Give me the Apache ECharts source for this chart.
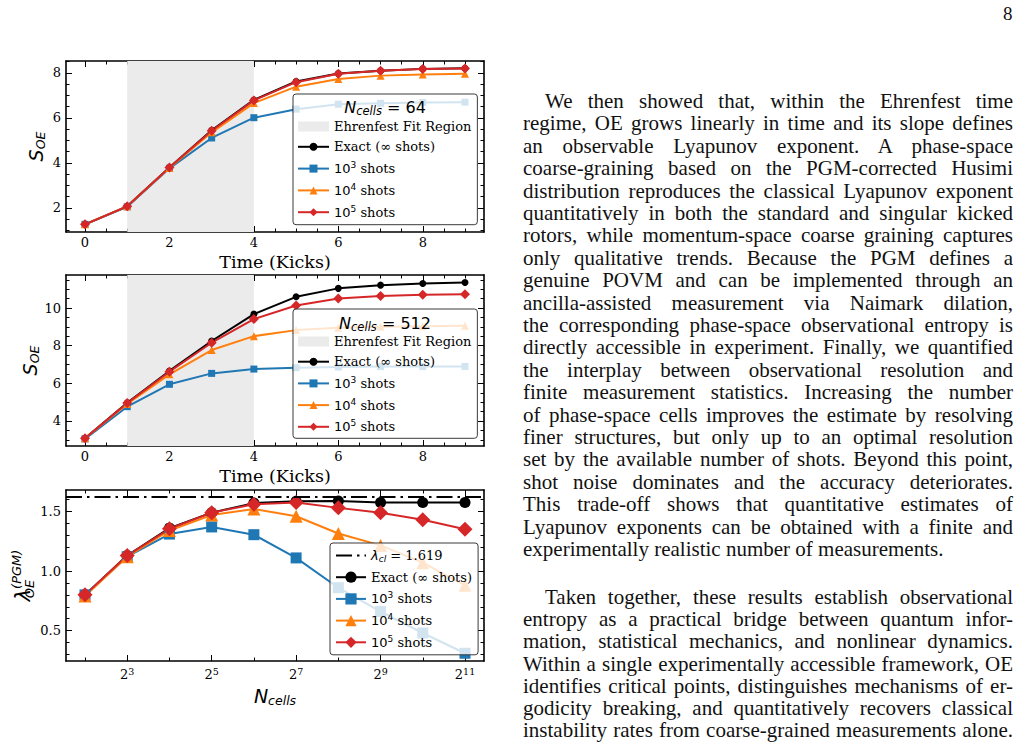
<!DOCTYPE html>
<html lang="en">
<head>
<meta charset="UTF-8">
<title>OE figure page</title>
<script src="https://cdn.jsdelivr.net/npm/echarts@6.0.0/dist/echarts.min.js"></script>
<style>
  html, body { margin: 0; padding: 0; background: #fff; }
  #main { position: absolute; left: 0; top: 0; width: 1021px; height: 743px; }
  #page { position: absolute; left: 0; top: 0; width: 1021px; height: 743px; overflow: hidden;
          font-family: 'Liberation Serif', serif; color: #111; pointer-events: none; }
  .ln { position: absolute; left: 523px; width: 490px; height: 24px; line-height: 24px; font-size: 21px;
        white-space: nowrap; text-align: justify; text-align-last: justify; }
  .ln.ind { padding-left: 22px; width: 468px; }
  .ln.last { text-align-last: left; }
  #pageno { position: absolute; left: 1003px; top: 4px; font-size: 19px; line-height: 20px; }
</style>
</head>
<body>
<div id="main"></div>
<div id="page"><div id="pageno">8</div></div>
<script type="text/javascript">
// ---- data ----
var kicks = [0, 1, 2, 3, 4, 5, 6, 7, 8, 9];
var fitRegion = [1, 4];
var panelCells = [64, 512];

// N_cells = 64
var exact64  = [1.27, 2.07, 3.80, 5.45, 6.80, 7.62, 7.97, 8.10, 8.18, 8.21];
var shots3_64 = [1.27, 2.05, 3.76, 5.11, 6.01, 6.39, 6.61, 6.65, 6.69, 6.70];
var shots4_64 = [1.27, 2.07, 3.78, 5.36, 6.66, 7.39, 7.73, 7.88, 7.93, 7.96];
var shots5_64 = [1.27, 2.07, 3.80, 5.43, 6.78, 7.59, 7.96, 8.10, 8.17, 8.20];

// N_cells = 512
var exact512  = [3.08, 4.97, 6.66, 8.25, 9.68, 10.60, 11.05, 11.22, 11.31, 11.36];
var shots3_512 = [3.05, 4.76, 5.95, 6.53, 6.76, 6.83, 6.87, 6.89, 6.89, 6.90];
var shots4_512 = [3.08, 4.90, 6.48, 7.77, 8.51, 8.83, 8.96, 9.01, 9.04, 9.06];
var shots5_512 = [3.08, 4.95, 6.62, 8.16, 9.42, 10.14, 10.51, 10.64, 10.71, 10.74];

// Lyapunov estimate vs number of cells
var nCells = [4, 8, 16, 32, 64, 128, 256, 512, 1024, 2048];
var lamExact = [0.80, 1.13, 1.36, 1.49, 1.57, 1.585, 1.588, 1.575, 1.575, 1.575];
var lam3 = [0.80, 1.12, 1.31, 1.37, 1.305, 1.11, 0.86, 0.66, 0.48, 0.31];
var lam4 = [0.79, 1.12, 1.34, 1.47, 1.52, 1.46, 1.315, 1.215, 1.07, 0.88];
var lam5 = [0.80, 1.13, 1.355, 1.49, 1.56, 1.575, 1.53, 1.49, 1.43, 1.35];
var lambdaCl = 1.619;

// tick labels
var kickTicks = [0, 2, 4, 6, 8];
var s64Ticks = [2, 4, 6, 8];
var s512Ticks = [4, 6, 8, 10];
var lamTicks = [0.5, 1.0, 1.5];
var cellExpTicks = [3, 5, 7, 9, 11];
var cellExpMinor = [2, 4, 6, 8, 10];

// ---- text column ----
var para1 = [
  'We then showed that, within the Ehrenfest time',
  'regime, OE grows linearly in time and its slope defines',
  'an observable Lyapunov exponent.  A phase-space',
  'coarse-graining based on the PGM-corrected Husimi',
  'distribution reproduces the classical Lyapunov exponent',
  'quantitatively in both the standard and singular kicked',
  'rotors, while momentum-space coarse graining captures',
  'only qualitative trends.  Because the PGM defines a',
  'genuine POVM and can be implemented through an',
  'ancilla-assisted measurement via Naimark dilation,',
  'the corresponding phase-space observational entropy is',
  'directly accessible in experiment. Finally, we quantified',
  'the interplay between observational resolution and',
  'finite measurement statistics.  Increasing the number',
  'of phase-space cells improves the estimate by resolving',
  'finer structures, but only up to an optimal resolution',
  'set by the available number of shots. Beyond this point,',
  'shot noise dominates and the accuracy deteriorates.',
  'This trade-off shows that quantitative estimates of',
  'Lyapunov exponents can be obtained with a finite and',
  'experimentally realistic number of measurements.'
];
var para2 = [
  'Taken together, these results establish observational',
  'entropy as a practical bridge between quantum infor-',
  'mation, statistical mechanics, and nonlinear dynamics.',
  'Within a single experimentally accessible framework, OE',
  'identifies critical points, distinguishes mechanisms of er-',
  'godicity breaking, and quantitatively recovers classical',
  'instability rates from coarse-grained measurements alone.'
];

function addPara(lines, firstTop, lead, lastLeft) {
  var page = document.getElementById('page');
  lines.forEach(function (t, i) {
    var d = document.createElement('div');
    d.className = 'ln' + (i === 0 ? ' ind' : '') + (lastLeft && i === lines.length - 1 ? ' last' : '');
    d.style.top = (firstTop + i * lead) + 'px';
    d.textContent = t;
    page.appendChild(d);
  });
}
addPara(para1, 89, 22.4, true);
addPara(para2, 585, 22.2, false);

// ---- chart ----
var chart = echarts.init(document.getElementById('main'), null, { renderer: 'svg' });

var SERIF = "'DejaVu Serif', serif";
var SANS = "'DejaVu Sans', sans-serif";
var C_EXACT = '#000000', C_3 = '#1f77b4', C_4 = '#ff7f0e', C_5 = '#d62728', C_FIT = '#ebebeb';
var N_FIT = 'Ehrenfest Fit Region', N_EX = 'Exact (\u221e shots)';
var N_3 = '10\u00b3 shots', N_4 = '10\u2074 shots', N_5 = '10\u2075 shots', N_CL = '\u03bbcl';

var gridBoxes = [
  { left: 66, top: 61, width: 418, height: 171 },
  { left: 66, top: 275, width: 418, height: 171 },
  { left: 66, top: 490, width: 418, height: 171 }
];
var ranges = [
  { x: [-0.45, 9.45], y: [0.93, 8.53] },
  { x: [-0.45, 9.45], y: [2.67, 11.76] },
  { x: [1.55, 11.45], y: [0.245, 1.68] }
];

function minorSteps(a, b, d) {
  var out = [];
  var v = Math.ceil(a / d) * d;
  for (; v <= b + 1e-9; v += d) out.push(+v.toFixed(4));
  return out;
}

var tickLabelStyle = { fontFamily: SERIF, fontSize: 13, color: '#000' };
var nameRich = {
  s: { fontFamily: SANS, fontStyle: 'italic', fontSize: 19, lineHeight: 22, color: '#000' },
  sub: { fontFamily: SANS, fontStyle: 'italic', fontSize: 12.5, lineHeight: 10, verticalAlign: 'bottom', color: '#000' },
  l: { fontFamily: SANS, fontStyle: 'italic', fontSize: 21, lineHeight: 26, color: '#000' },
  lsub: { fontFamily: SANS, fontStyle: 'italic', fontSize: 13, lineHeight: 10, width: 0, verticalAlign: 'bottom', color: '#000' },
  lsup: { fontFamily: SANS, fontStyle: 'italic', fontSize: 13, lineHeight: 9, verticalAlign: 'top', color: '#000' }
};

function makeAxis(g, pos, range, ticks, len, line, label) {
  var ax = {
    type: 'value', gridIndex: g, position: pos, min: range[0], max: range[1],
    axisLine: { show: line, onZero: false, lineStyle: { color: '#000', width: 1.6 } },
    axisTick: { show: true, inside: true, length: len, customValues: ticks, lineStyle: { color: '#000', width: 1 } },
    axisLabel: { show: false },
    splitLine: { show: false }
  };
  if (label) {
    ax.axisLabel = Object.assign({ show: true, customValues: ticks }, tickLabelStyle, label);
  }
  return ax;
}

var xAxes = [], yAxes = [];
var xMajor = [kickTicks, kickTicks, cellExpTicks];
var yMajor = [s64Ticks, s512Ticks, lamTicks];
[0, 1, 2].forEach(function (g) {
  var r = ranges[g];
  var xMin = g === 2 ? cellExpMinor : minorSteps(r.x[0], r.x[1], 0.5);
  var yMin = minorSteps(r.y[0], r.y[1], g === 2 ? 0.1 : 0.5);
  var xl = g === 2 ? {
    margin: 5,
    formatter: function (v) { return '{b|2}{p|' + Math.round(v) + '}'; },
    rich: {
      b: { fontFamily: SERIF, fontSize: 13, lineHeight: 16, color: '#000' },
      p: { fontFamily: SERIF, fontSize: 9.5, lineHeight: 7, verticalAlign: 'top', color: '#000' }
    }
  } : { margin: 4 };
  var bx = makeAxis(g, 'bottom', r.x, xMajor[g], 6, true, xl);
  bx.nameLocation = 'middle';
  if (g === 2) {
    bx.name = '{s|N}{sub|cells}';
    bx.nameGap = 24;
    bx.nameTextStyle = { rich: nameRich };
  } else {
    bx.name = 'Time (Kicks)';
    bx.nameGap = 21;
    bx.nameTextStyle = { fontFamily: SERIF, fontSize: 17.5, color: '#000' };
  }
  xAxes.push(bx);
  xAxes.push(makeAxis(g, 'bottom', r.x, xMin, 3.5, false));
  xAxes.push(makeAxis(g, 'top', r.x, xMajor[g], 6, true));
  xAxes.push(makeAxis(g, 'top', r.x, xMin, 3.5, false));

  var ly = makeAxis(g, 'left', r.y, yMajor[g], 6, true, {
    margin: 5,
    formatter: function (v) { return g === 2 ? v.toFixed(1) : String(v); }
  });
  ly.nameLocation = 'middle';
  ly.nameTextStyle = { rich: nameRich };
  if (g === 2) {
    ly.name = '{l|\u03bb}{lsub|OE}{lsup|(PGM)}';
    ly.nameGap = 17;
  } else {
    ly.name = '{s|S}{sub|OE}';
    ly.nameGap = 19;
  }
  yAxes.push(ly);
  yAxes.push(makeAxis(g, 'left', r.y, yMin, 3.5, false));
  yAxes.push(makeAxis(g, 'right', r.y, yMajor[g], 6, true));
  yAxes.push(makeAxis(g, 'right', r.y, yMin, 3.5, false));
});

function pairs(xs, ys) {
  return xs.map(function (x, i) { return [x, ys[i]]; });
}

function curve(name, g, xs, ys, color, symbol, size) {
  return {
    name: name, type: 'line', xAxisIndex: 4 * g, yAxisIndex: 4 * g,
    data: pairs(xs, ys), symbol: symbol, symbolSize: size, showAllSymbol: true,
    lineStyle: { color: color, width: 2 }, itemStyle: { color: color },
    emphasis: { disabled: true }, silent: true
  };
}

function fitBand(g) {
  return {
    name: N_FIT, type: 'line', xAxisIndex: 4 * g, yAxisIndex: 4 * g, data: [],
    itemStyle: { color: C_FIT }, lineStyle: { color: C_FIT },
    markArea: { silent: true, itemStyle: { color: C_FIT }, data: [[{ xAxis: fitRegion[0] }, { xAxis: fitRegion[1] }]] }
  };
}

var expX = nCells.map(function (n) { return Math.log2(n); });
var DASHDOT = [16, 5, 2.5, 5];

var series = [
  fitBand(0),
  curve(N_EX, 0, kicks, exact64, C_EXACT, 'circle', 7),
  curve(N_3, 0, kicks, shots3_64, C_3, 'rect', 7),
  curve(N_4, 0, kicks, shots4_64, C_4, 'triangle', 8),
  curve(N_5, 0, kicks, shots5_64, C_5, 'diamond', 10),
  fitBand(1),
  curve(N_EX, 1, kicks, exact512, C_EXACT, 'circle', 7),
  curve(N_3, 1, kicks, shots3_512, C_3, 'rect', 7),
  curve(N_4, 1, kicks, shots4_512, C_4, 'triangle', 8),
  curve(N_5, 1, kicks, shots5_512, C_5, 'diamond', 10),
  {
    name: N_CL, type: 'line', xAxisIndex: 8, yAxisIndex: 8, data: [], symbol: 'none',
    lineStyle: { color: '#000', width: 2, type: DASHDOT }, itemStyle: { color: '#000' },
    markLine: {
      silent: true, symbol: 'none', label: { show: false },
      lineStyle: { color: '#000', width: 2, type: DASHDOT },
      data: [{ yAxis: lambdaCl }]
    }
  },
  curve(N_EX, 2, expX, lamExact, C_EXACT, 'circle', 11),
  curve(N_3, 2, expX, lam3, C_3, 'rect', 11),
  curve(N_4, 2, expX, lam4, C_4, 'triangle', 13),
  curve(N_5, 2, expX, lam5, C_5, 'diamond', 15)
];

var legendRich = {
  t: { fontFamily: SERIF, fontSize: 13, lineHeight: 16, color: '#000' },
  m: { fontFamily: SANS, fontSize: 13, lineHeight: 16, color: '#000' },
  sup: { fontFamily: SANS, fontSize: 9, lineHeight: 8, verticalAlign: 'top', color: '#000' },
  i: { fontFamily: SANS, fontStyle: 'italic', fontSize: 13, lineHeight: 16, color: '#000' },
  isub: { fontFamily: SANS, fontStyle: 'italic', fontSize: 9, lineHeight: 8, verticalAlign: 'bottom', color: '#000' }
};

function legendLabel(name) {
  if (name === N_3) return '{m|10}{sup|3}{t| shots}';
  if (name === N_4) return '{m|10}{sup|4}{t| shots}';
  if (name === N_5) return '{m|10}{sup|5}{t| shots}';
  if (name === N_CL) return '{i|\u03bb}{isub|cl}{t| = ' + lambdaCl.toFixed(3) + '}';
  return '{t|' + name + '}';
}

function legendBox(left, top, padding, itemW, itemH, gap, items) {
  return {
    orient: 'vertical', left: left, top: top, padding: padding,
    itemWidth: itemW, itemHeight: itemH, itemGap: gap,
    backgroundColor: 'rgba(255,255,255,0.8)', borderColor: '#3a3a3a', borderWidth: 1, borderRadius: 3,
    selectedMode: false, formatter: legendLabel,
    textStyle: { fontFamily: SERIF, fontSize: 13, color: '#000', rich: legendRich },
    data: items
  };
}

var fitItem = { name: N_FIT, icon: 'rect', itemStyle: { color: C_FIT } };
var legends = [
  legendBox(293, 94, [26, 6, 6, 4], 31, 10, 7.3, [fitItem, N_EX, N_3, N_4, N_5]),
  legendBox(293, 309, [26, 6, 5, 4], 31, 10, 7.2, [fitItem, N_EX, N_3, N_4, N_5]),
  legendBox(330, 543, [6, 6, 6, 5], 30, 14, 7.2, [{ name: N_CL, itemStyle: { opacity: 0 } }, N_EX, N_3, N_4, N_5])
];

var titleRich = {
  n: { fontFamily: SANS, fontStyle: 'italic', fontSize: 16, lineHeight: 20, fill: '#000' },
  c: { fontFamily: SANS, fontStyle: 'italic', fontSize: 11.5, lineHeight: 8, verticalAlign: 'bottom', fill: '#000' },
  e: { fontFamily: SANS, fontSize: 16, lineHeight: 20, fill: '#000' }
};
var titleY = [107, 323];
var graphics = panelCells.map(function (n, i) {
  return {
    type: 'text', x: 385, y: titleY[i], z: 100, silent: true,
    style: {
      text: '{n|N}{c|cells}{e| = ' + n + '}', rich: titleRich,
      align: 'center', verticalAlign: 'middle'
    }
  };
});

chart.setOption({
  animation: false,
  backgroundColor: '#fff',
  grid: gridBoxes,
  xAxis: xAxes,
  yAxis: yAxes,
  legend: legends,
  graphic: graphics,
  series: series
});
</script>
</body>
</html>
